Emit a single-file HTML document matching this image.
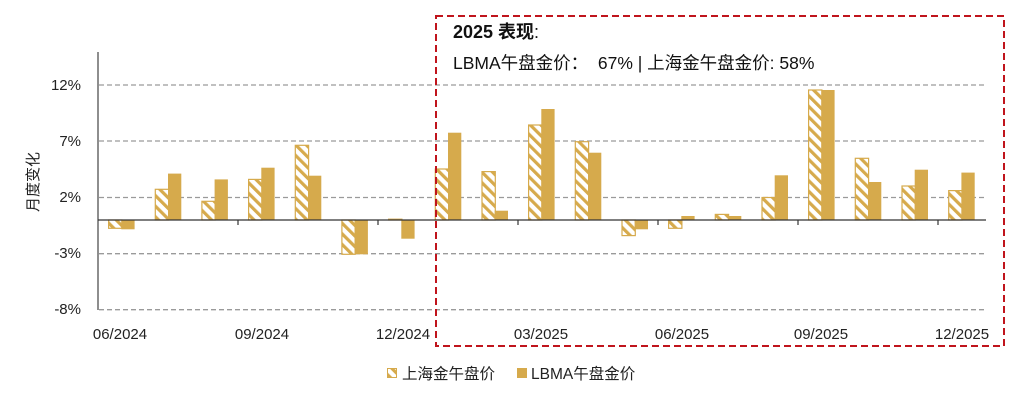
<!DOCTYPE html>
<html><head><meta charset="utf-8"><style>
html,body{margin:0;padding:0;background:#fff;}
svg{display:block;font-family:"Liberation Sans","Noto Sans CJK SC",sans-serif;}
</style></head><body>
<svg width="1019" height="402" viewBox="0 0 1019 402" xmlns="http://www.w3.org/2000/svg">
<defs>
<pattern id="h" patternUnits="userSpaceOnUse" width="7.5" height="7.5" patternTransform="rotate(-45)">
<rect width="7.5" height="7.5" fill="#fff"/><rect width="3.2" height="7.5" fill="#D6AA4C"/>
</pattern>
</defs>
<g stroke="#9a9a9a" stroke-width="1.3" stroke-dasharray="5,3">
<line x1="99" y1="85" x2="986" y2="85"/>
<line x1="99" y1="141" x2="986" y2="141"/>
<line x1="99" y1="197.5" x2="986" y2="197.5"/>
<line x1="99" y1="253.7" x2="986" y2="253.7"/>
<line x1="99" y1="309.7" x2="986" y2="309.7"/>
</g>
<g fill="url(#h)" stroke="#D6AA4C" stroke-width="1.2">
<rect x="108.6" y="220" width="13.3" height="8.3"/>
<rect x="155.3" y="189.3" width="13.3" height="30.7"/>
<rect x="201.9" y="201.3" width="13.3" height="18.7"/>
<rect x="248.6" y="179.4" width="13.3" height="40.6"/>
<rect x="295.3" y="145.3" width="13.3" height="74.7"/>
<rect x="341.9" y="220" width="13.3" height="34.3"/>
<rect x="388.6" y="219.2" width="13.3" height="0.8"/>
<rect x="435.3" y="169" width="13.3" height="51"/>
<rect x="482.0" y="171.6" width="13.3" height="48.4"/>
<rect x="528.6" y="125" width="13.3" height="95"/>
<rect x="575.3" y="141.7" width="13.3" height="78.3"/>
<rect x="622.0" y="220" width="13.3" height="15.6"/>
<rect x="668.6" y="220" width="13.3" height="8.3"/>
<rect x="715.3" y="214.4" width="13.3" height="5.6"/>
<rect x="762.0" y="197.5" width="13.3" height="22.5"/>
<rect x="808.6" y="90" width="13.3" height="130"/>
<rect x="855.3" y="158.3" width="13.3" height="61.7"/>
<rect x="902.0" y="186" width="13.3" height="34"/>
<rect x="948.7" y="190.6" width="13.3" height="29.4"/>
</g>
<g fill="#D6AA4C">
<rect x="121.3" y="220" width="13.3" height="9.3"/>
<rect x="168.0" y="173.6" width="13.3" height="46.4"/>
<rect x="214.6" y="179.4" width="13.3" height="40.6"/>
<rect x="261.3" y="167.7" width="13.3" height="52.3"/>
<rect x="308.0" y="175.7" width="13.3" height="44.3"/>
<rect x="354.6" y="220" width="13.3" height="34.3"/>
<rect x="401.3" y="220" width="13.3" height="18.7"/>
<rect x="448.0" y="132.7" width="13.3" height="87.3"/>
<rect x="494.7" y="210.7" width="13.3" height="9.3"/>
<rect x="541.3" y="109" width="13.3" height="111"/>
<rect x="588.0" y="152.7" width="13.3" height="67.3"/>
<rect x="634.7" y="220" width="13.3" height="9.3"/>
<rect x="681.3" y="216" width="13.3" height="4"/>
<rect x="728.0" y="216" width="13.3" height="4"/>
<rect x="774.7" y="175.3" width="13.3" height="44.7"/>
<rect x="821.3" y="90" width="13.3" height="130"/>
<rect x="868.0" y="182" width="13.3" height="38"/>
<rect x="914.7" y="169.7" width="13.3" height="50.3"/>
<rect x="961.4" y="172.6" width="13.3" height="47.4"/>
</g>
<line x1="98" y1="52" x2="98" y2="310" stroke="#444" stroke-width="1.2"/>
<line x1="98" y1="220" x2="986" y2="220" stroke="#333" stroke-width="1.2"/>
<g stroke="#333" stroke-width="1.2">
<line x1="238" y1="220" x2="238" y2="225"/><line x1="378" y1="220" x2="378" y2="225"/>
<line x1="518" y1="220" x2="518" y2="225"/><line x1="658" y1="220" x2="658" y2="225"/>
<line x1="798" y1="220" x2="798" y2="225"/><line x1="938" y1="220" x2="938" y2="225"/>
</g>
<g font-size="15" fill="#222" text-anchor="end">
<text x="81" y="90">12%</text><text x="81" y="146">7%</text><text x="81" y="202">2%</text>
<text x="81" y="258">-3%</text><text x="81" y="314">-8%</text>
</g>
<text x="0" y="0" font-size="15" fill="#222" text-anchor="middle" transform="translate(38,182) rotate(-90)">月度变化</text>
<g font-size="15" fill="#222" text-anchor="middle">
<text x="120" y="339">06/2024</text><text x="262" y="339">09/2024</text><text x="403" y="339">12/2024</text>
<text x="541" y="339">03/2025</text><text x="682" y="339">06/2025</text><text x="821" y="339">09/2025</text>
<text x="962" y="339">12/2025</text>
</g>
<rect x="436" y="16" width="568" height="330" fill="none" stroke="#C0141C" stroke-width="2" stroke-dasharray="7,4"/>
<text x="453" y="38" font-size="18" font-weight="bold" fill="#111">2025 表现<tspan font-weight="normal">:</tspan></text>
<text x="453" y="69" font-size="17.5" fill="#111" xml:space="preserve">LBMA午盘金价：  67% | 上海金午盘金价: 58%</text>
<rect x="387.5" y="368.5" width="9" height="9" fill="url(#h)" stroke="#D6AA4C"/>
<text x="402" y="379" font-size="15.5" fill="#222">上海金午盘价</text>
<rect x="517" y="368" width="10" height="10" fill="#D6AA4C"/>
<text x="531" y="379" font-size="15.5" fill="#222">LBMA午盘金价</text>
</svg>
</body></html>
